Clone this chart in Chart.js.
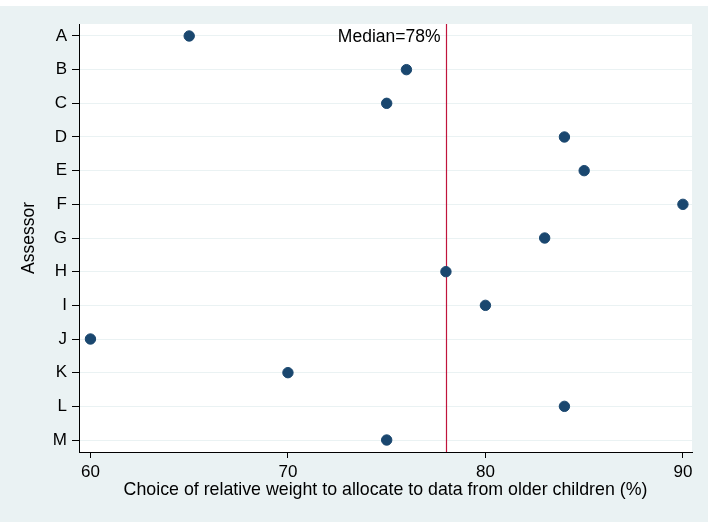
<!DOCTYPE html>
<html>
<head>
<meta charset="utf-8">
<script src="https://cdn.jsdelivr.net/npm/chart.js@4/dist/chart.umd.min.js"></script>
<style>
html,body{margin:0;padding:0;background:#fff;}
canvas{display:block;}
</style>
</head>
<body>
<canvas id="c" width="712" height="522"></canvas>
<script>
const assessors = ["A","B","C","D","E","F","G","H","I","J","K","L","M"];
const weights = [65,76,75,84,85,90,83,78,80,60,70,84,75];
const xTicks = [60,70,80,90];
const medianValue = 78;
const medianLabel = "Median=78%";
const xTitle = "Choice of relative weight to allocate to data from older children (%)";
const yTitle = "Assessor";

const FONT = "'Liberation Sans', Arial, sans-serif";
const BG = "#eaf2f3";

const bgPlugin = {
  id: 'bg',
  beforeDraw(chart) {
    const ctx = chart.ctx, a = chart.chartArea;
    ctx.save();
    ctx.fillStyle = '#ffffff';
    ctx.fillRect(0, 0, chart.width, chart.height);
    ctx.fillStyle = BG;
    ctx.fillRect(0, 6, 708, 516);
    ctx.fillStyle = '#ffffff';
    ctx.fillRect(a.left, a.top, a.right - a.left, a.bottom - a.top);
    ctx.restore();
  }
};

const medianPlugin = {
  id: 'median',
  beforeDatasetsDraw(chart) {
    const ctx = chart.ctx, a = chart.chartArea;
    const x = Math.round(chart.scales.x.getPixelForValue(medianValue)) + 0.5;
    ctx.save();
    ctx.strokeStyle = '#c0143c';
    ctx.lineWidth = 1.2;
    ctx.beginPath();
    ctx.moveTo(x, a.top);
    ctx.lineTo(x, a.bottom);
    ctx.stroke();
    ctx.fillStyle = '#000';
    ctx.font = "17.5px " + FONT;
    ctx.textAlign = 'right';
    ctx.textBaseline = 'middle';
    ctx.fillText(medianLabel, x - 6, chart.scales.y.getPixelForValue(0) + 1);
    ctx.restore();
  }
};

new Chart(document.getElementById('c'), {
  type: 'scatter',
  data: {
    datasets: [{
      data: weights.map((w, i) => ({x: w, y: i})),
      backgroundColor: '#1a476f',
      borderColor: '#1a476f',
      pointRadius: 5.2,
      pointHoverRadius: 5.2
    }]
  },
  options: {
    responsive: false,
    animation: false,
    events: [],
    layout: { padding: { top: 24, right: 20, left: 0, bottom: 0 } },
    plugins: { legend: { display: false }, tooltip: { enabled: false } },
    scales: {
      x: {
        type: 'linear',
        min: 59.42,
        max: 90.46,
        afterBuildTicks(s) { s.ticks = xTicks.map(v => ({value: v})); },
        afterFit(s) { s.height = 70; },
        grid: { drawOnChartArea: false, drawTicks: true, tickLength: 6, tickColor: '#000', lineWidth: 1 },
        border: { color: '#000', width: 1 },
        ticks: { color: '#000', font: { family: FONT, size: 17 }, padding: 4, maxRotation: 0 },
        title: { display: true, text: xTitle, color: '#000', font: { family: FONT, size: 17.8 }, padding: { top: 0, bottom: 21 } }
      },
      y: {
        type: 'linear',
        reverse: true,
        min: -0.356,
        max: 12.356,
        afterBuildTicks(s) { s.ticks = assessors.map((_, i) => ({value: i})); },
        afterFit(s) { s.width = 79; },
        grid: { drawOnChartArea: true, color: BG, drawTicks: true, tickLength: 7, tickColor: '#000', lineWidth: 1 },
        border: { color: '#000', width: 1 },
        ticks: { color: '#000', font: { family: FONT, size: 17 }, padding: 5, callback: (v) => assessors[v] },
        title: { display: true, text: yTitle, color: '#000', font: { family: FONT, size: 17.5 }, padding: { top: 19, bottom: 0 } }
      }
    }
  },
  plugins: [bgPlugin, medianPlugin]
});
</script>
</body>
</html>
